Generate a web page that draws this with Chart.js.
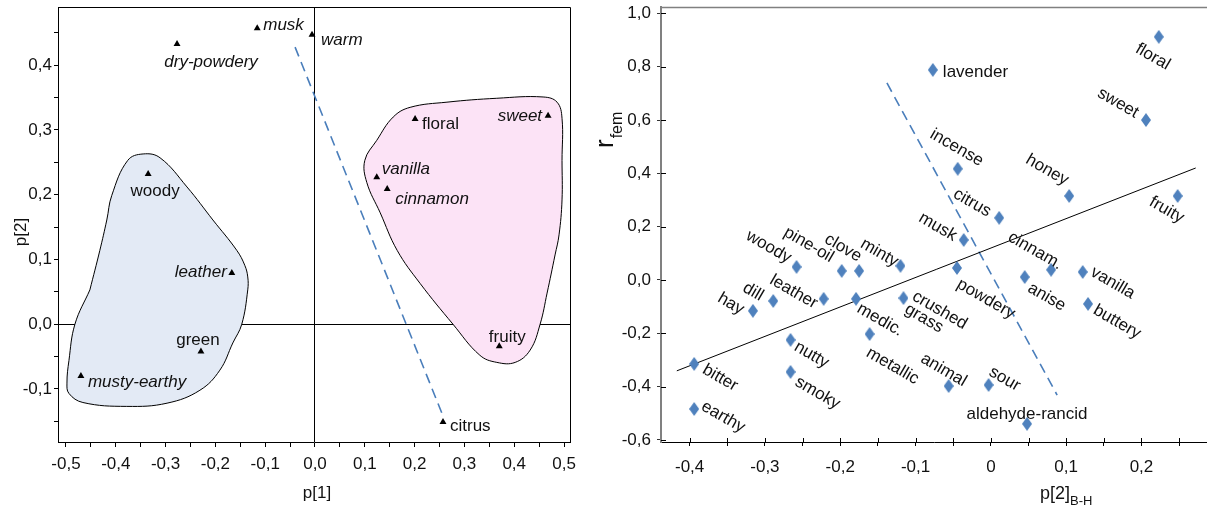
<!DOCTYPE html>
<html>
<head>
<meta charset="utf-8">
<script src="https://cdn.jsdelivr.net/npm/chart.js@4.4.1/dist/chart.umd.min.js"></script>
<style>
  html, body { margin: 0; padding: 0; background: #fff; }
  #left { position: absolute; left: 0; top: 0; }
  #right { position: absolute; left: 590px; top: 0; }
</style>
</head>
<body>
<canvas id="left" width="590" height="510"></canvas>
<canvas id="right" width="617" height="510"></canvas>
<script>
// ---- left panel : p[1] / p[2] loadings ----
const leftNames = ['musk', 'warm', 'dry-powdery', 'woody', 'leather', 'green', 'musty-earthy',
                   'floral', 'sweet', 'vanilla', 'cinnamon', 'fruity', 'citrus'];
const leftP1 = [-0.116, -0.006, -0.277, -0.335, -0.167, -0.229, -0.470,
                0.201, 0.468, 0.124, 0.145, 0.370, 0.257];
const leftP2 = [0.457, 0.447, 0.433, 0.232, 0.079, -0.042, -0.080,
                0.317, 0.322, 0.227, 0.209, -0.034, -0.151];

// outline of the two groups
const blueBlobX = [-0.452, -0.482, -0.494, -0.498, -0.494, -0.466, -0.378, -0.297, -0.231, -0.191, -0.165, -0.147,
                   -0.135, -0.135, -0.141, -0.157, -0.205, -0.257, -0.311, -0.345, -0.376, -0.408, -0.418, -0.432, -0.452];
const blueBlobY = [0.053, 0.000, -0.056, -0.091, -0.107, -0.121, -0.127, -0.122, -0.102, -0.071, -0.029, 0.000,
                   0.053, 0.073, 0.091, 0.114, 0.161, 0.212, 0.257, 0.263, 0.253, 0.199, 0.161, 0.114, 0.053];
const pinkBlobX = [0.496, 0.496, 0.490, 0.482, 0.466, 0.452, 0.432, 0.402, 0.365, 0.331, 0.277, 0.211,
                   0.165, 0.131, 0.104, 0.100, 0.124, 0.157, 0.191, 0.265, 0.365, 0.458, 0.486, 0.496, 0.496];
const pinkBlobY = [0.253, 0.192, 0.138, 0.107, 0.048, 0.000, -0.040, -0.059, -0.059, -0.048, 0.000, 0.063,
                   0.114, 0.172, 0.219, 0.253, 0.284, 0.320, 0.335, 0.343, 0.349, 0.351, 0.343, 0.318, 0.253];

const leftDashX = [-0.040, 0.255];
const leftDashY = [0.428, -0.138];

const leftXTicks = [-0.5, -0.45, -0.4, -0.35, -0.3, -0.25, -0.2, -0.15, -0.1, -0.05, 0,
                    0.05, 0.1, 0.15, 0.2, 0.25, 0.3, 0.35, 0.4, 0.45, 0.5];
const leftXLabels = ['-0,5', '', '-0,4', '', '-0,3', '', '-0,2', '', '-0,1', '', '0,0',
                     '', '0,1', '', '0,2', '', '0,3', '', '0,4', '', '0,5'];
const leftYTicks = [-0.15, -0.1, -0.05, 0, 0.05, 0.1, 0.15, 0.2, 0.25, 0.3, 0.35, 0.4, 0.45];
const leftYLabels = ['', '-0,1', '', '0,0', '', '0,1', '', '0,2', '', '0,3', '', '0,4', ''];

// ---- right panel : r_fem vs p[2]B-H ----
const rightNames = ['floral', 'lavender', 'sweet', 'incense', 'honey', 'fruity', 'citrus', 'musk',
                    'woody', 'pine-oil', 'clove', 'minty', 'powdery', 'cinnam.', 'vanilla', 'anise',
                    'leather', 'medic.', 'dill', 'hay', 'crushed\ngrass', 'buttery', 'metallic', 'nutty',
                    'smoky', 'bitter', 'earthy', 'animal', 'sour', 'aldehyde-rancid'];
const rightX = [0.223, -0.077, 0.206, -0.044, 0.104, 0.248, 0.011, -0.036,
                -0.258, -0.198, -0.175, -0.120, -0.045, 0.080, 0.122, 0.045,
                -0.222, -0.179, -0.289, -0.316, -0.116, 0.129, -0.161, -0.266,
                -0.266, -0.394, -0.394, -0.056, -0.003, 0.048];
const rightY = [0.912, 0.788, 0.600, 0.417, 0.315, 0.315, 0.233, 0.150,
                0.049, 0.034, 0.034, 0.053, 0.045, 0.038, 0.030, 0.011,
                -0.071, -0.071, -0.079, -0.116, -0.068, -0.090, -0.203, -0.225,
                -0.345, -0.315, -0.484, -0.398, -0.394, -0.540];

const fitX = [-0.417, 0.272];
const fitY = [-0.341, 0.420];
const rightDashX = [-0.138, 0.088];
const rightDashY = [0.739, -0.432];

const rightXTicks = [-0.4, -0.35, -0.3, -0.25, -0.2, -0.15, -0.1, -0.05, 0, 0.05, 0.1, 0.15, 0.2, 0.25];
const rightXLabels = ['-0,4', '', '-0,3', '', '-0,2', '', '-0,1', '', '0', '', '0,1', '', '0,2', ''];
const rightYTicks = [-0.6, -0.4, -0.2, 0, 0.2, 0.4, 0.6, 0.8, 1.0];
const rightYLabels = ['-0,6', '-0,4', '-0,2', '0,0', '0,2', '0,4', '0,6', '0,8', '1,0'];

// label placement: [dx, dy, angle, align, italic]
const leftLabelPlace = [
  [6, -3, 0, 'left', 1], [9, 5, 0, 'left', 1], [34, 18, 0, 'center', 1], [7, 17, 0, 'center', 0],
  [-5, -1, 0, 'right', 1], [-3, -11, 0, 'center', 0], [7, 6, 0, 'left', 1], [7, 5, 0, 'left', 0],
  [-6, 1, 0, 'right', 1], [5, -8, 0, 'left', 1], [8, 10, 0, 'left', 1], [8, -9, 0, 'center', 0],
  [7, 4, 0, 'left', 0]
];
const rightLabelPlace = [
  [-6, 20, 30, 'center'], [10, 2, 0, 'left'], [-28, -17, 30, 'center'], [-1, -21, 30, 'center'],
  [-22, -26, 30, 'center'], [-11, 14, 30, 'center'], [-27, -15, 30, 'center'], [-26, -13, 30, 'center'],
  [-28, -20, 30, 'center'], [-33, -26, 30, 'center'], [-16, -23, 30, 'center'], [-21, -13, 30, 'center'],
  [29, 31, 30, 'center'], [-16, -19, 30, 'center'], [30, 11, 30, 'center'], [22, 20, 30, 'center'],
  [-30, -7, 30, 'center'], [24, 21, 30, 'center'], [-20, -9, 30, 'center'], [-22, -7, 30, 'center'],
  [10, -3, 30, 'left'], [29, 18, 30, 'center'], [23, 32, 30, 'center'], [21, 15, 30, 'center'],
  [27, 21, 30, 'center'], [26, 14, 30, 'center'], [29, 8, 30, 'center'], [-5, -16, 30, 'center'],
  [16, -6, 30, 'center'], [0, -10, 0, 'center']
];

const FONT = '"Liberation Sans", Arial, sans-serif';
const BLUE = '#4a7ebb';
Chart.defaults.font.family = FONT;
Chart.defaults.font.size = 17;
Chart.defaults.color = '#111';

const pts = (xs, ys) => xs.map((x, i) => ({x: x, y: ys[i]}));

// diamond marker, a bit taller than wide
const diamond = document.createElement('canvas');
diamond.width = 10; diamond.height = 14;
(function () {
  const c = diamond.getContext('2d');
  c.fillStyle = '#4f81bd';
  c.beginPath();
  c.moveTo(5, 0); c.lineTo(10, 7); c.lineTo(5, 14); c.lineTo(0, 7);
  c.closePath(); c.fill();
})();

function labelPlugin(names, place, dsIndex) {
  return {
    id: 'pointLabels',
    afterDatasetsDraw(chart) {
      const ctx = chart.ctx;
      const meta = chart.getDatasetMeta(dsIndex);
      meta.data.forEach((pt, i) => {
        const p = place[i];
        ctx.save();
        ctx.translate(pt.x + p[0], pt.y + p[1]);
        ctx.rotate(p[2] * Math.PI / 180);
        ctx.font = (p[4] ? 'italic ' : '') + '17px ' + FONT;
        ctx.fillStyle = '#111';
        ctx.textAlign = p[3];
        ctx.textBaseline = 'middle';
        names[i].split('\n').forEach((line, k) => ctx.fillText(line, 0, k * 15));
        ctx.restore();
      });
    }
  };
}

const zeroLine = c => (c.tick && c.tick.value === 0) ? '#000' : 'rgba(0,0,0,0)';

// ---------- left chart ----------
new Chart(document.getElementById('left'), {
  type: 'line',
  data: {
    datasets: [
      { data: pts(leftP1, leftP2), showLine: false, pointStyle: 'triangle', pointRadius: 4,
        backgroundColor: '#000', borderColor: '#000', borderWidth: 0, order: 1 },
      { data: pts(leftDashX, leftDashY), borderColor: BLUE, borderWidth: 1.6, borderDash: [10, 6],
        pointRadius: 0, order: 2 },
      { data: pts(blueBlobX, blueBlobY), fill: 'shape', backgroundColor: '#e3eaf5', borderColor: '#000',
        borderWidth: 1, tension: 0.4, pointRadius: 0, order: 3 },
      { data: pts(pinkBlobX, pinkBlobY), fill: 'shape', backgroundColor: '#fce3f6', borderColor: '#000',
        borderWidth: 1, tension: 0.4, pointRadius: 0, order: 3 }
    ]
  },
  options: {
    responsive: false,
    animation: false,
    layout: { autoPadding: false, padding: { left: 0, right: 20, top: 7, bottom: 0 } },
    plugins: { legend: { display: false }, tooltip: { enabled: false } },
    scales: {
      x: {
        type: 'linear', min: -0.516, max: 0.512, z: 1,
        afterBuildTicks: s => { s.ticks = leftXTicks.map(v => ({value: v})); },
        afterFit: s => { s.height = 68; s.paddingLeft = 0; s.paddingRight = 0; },
        ticks: { autoSkip: false, maxRotation: 0, padding: 7, callback: (v, i) => leftXLabels[i] },
        grid: { color: zeroLine, tickColor: '#000', tickLength: 5 },
        border: { color: '#000', width: 1 }
      },
      y: {
        type: 'linear', min: -0.182, max: 0.49, z: 1,
        afterBuildTicks: s => { s.ticks = leftYTicks.map(v => ({value: v})); },
        afterFit: s => { s.width = 58; s.paddingTop = 0; s.paddingBottom = 0; },
        ticks: { autoSkip: false, padding: 2, callback: (v, i) => leftYLabels[i] },
        grid: { color: zeroLine, tickColor: '#000', tickLength: 4 },
        border: { color: '#000', width: 1 }
      }
    }
  },
  plugins: [
    labelPlugin(leftNames, leftLabelPlace, 0),
    {
      id: 'frameAndTitles',
      afterDraw(chart) {
        const {ctx, chartArea: a} = chart;
        ctx.save();
        ctx.strokeStyle = '#000';
        ctx.lineWidth = 1;
        ctx.beginPath();
        ctx.moveTo(Math.round(a.left) + 0.5, Math.round(a.top) + 0.5);
        ctx.lineTo(Math.round(a.right) + 0.5, Math.round(a.top) + 0.5);
        ctx.lineTo(Math.round(a.right) + 0.5, Math.round(a.bottom) + 0.5);
        ctx.stroke();
        ctx.fillStyle = '#111';
        ctx.font = '17px ' + FONT;
        ctx.textAlign = 'center';
        ctx.textBaseline = 'middle';
        ctx.fillText('p[1]', 317, 493);
        ctx.translate(21, 232);
        ctx.rotate(-Math.PI / 2);
        ctx.fillText('p[2]', 0, 0);
        ctx.restore();
      }
    }
  ]
});

// ---------- right chart ----------
new Chart(document.getElementById('right'), {
  type: 'line',
  data: {
    datasets: [
      { data: pts(rightX, rightY), showLine: false, pointStyle: diamond, pointRadius: 7, order: 1 },
      { data: pts(fitX, fitY), borderColor: '#000', borderWidth: 1, pointRadius: 0, order: 2 },
      { data: pts(rightDashX, rightDashY), borderColor: BLUE, borderWidth: 1.6, borderDash: [10, 6],
        pointRadius: 0, order: 2 }
    ]
  },
  options: {
    responsive: false,
    animation: false,
    layout: { autoPadding: false, padding: { left: 0, right: 0, top: 7, bottom: 0 } },
    plugins: { legend: { display: false }, tooltip: { enabled: false } },
    scales: {
      x: {
        type: 'linear', min: -0.438, max: 0.287,
        afterBuildTicks: s => { s.ticks = rightXTicks.map(v => ({value: v})); },
        afterFit: s => { s.height = 68; s.paddingLeft = 0; s.paddingRight = 0; },
        ticks: { autoSkip: false, maxRotation: 0, padding: 11, callback: (v, i) => rightXLabels[i] },
        grid: { drawOnChartArea: false, tickColor: '#000', tickLength: 4 },
        border: { color: '#000', width: 1 }
      },
      y: {
        type: 'linear', min: -0.608, max: 1.024,
        afterBuildTicks: s => { s.ticks = rightYTicks.map(v => ({value: v})); },
        afterFit: s => { s.width = 71; s.paddingTop = 0; s.paddingBottom = 0; },
        ticks: { autoSkip: false, padding: 6, callback: (v, i) => rightYLabels[i] },
        grid: { drawOnChartArea: false, tickColor: '#333', tickLength: 4 },
        border: { color: '#808080', width: 2 }
      }
    }
  },
  plugins: [
    labelPlugin(rightNames, rightLabelPlace, 0),
    {
      id: 'frameAndTitles',
      afterDraw(chart) {
        const {ctx, chartArea: a, scales} = chart;
        ctx.save();
        // top frame line
        ctx.strokeStyle = '#808080';
        ctx.lineWidth = 1.5;
        ctx.beginPath();
        ctx.moveTo(a.left, Math.round(a.top) + 0.5);
        ctx.lineTo(a.right, Math.round(a.top) + 0.5);
        ctx.stroke();
        // tick marks reaching inside the plot
        ctx.lineWidth = 1;
        ctx.strokeStyle = '#000';
        ctx.beginPath();
        scales.x.ticks.forEach(t => {
          const px = Math.round(scales.x.getPixelForValue(t.value)) + 0.5;
          ctx.moveTo(px, a.bottom); ctx.lineTo(px, a.bottom - 4);
        });
        scales.y.ticks.forEach(t => {
          const py = Math.round(scales.y.getPixelForValue(t.value)) + 0.5;
          ctx.moveTo(a.left, py); ctx.lineTo(a.left + 5, py);
        });
        ctx.stroke();
        // axis titles with subscripts
        ctx.fillStyle = '#111';
        ctx.textAlign = 'left';
        ctx.textBaseline = 'alphabetic';
        ctx.font = '18px ' + FONT;
        ctx.fillText('p[2]', 450, 499);
        const w = ctx.measureText('p[2]').width;
        ctx.font = '13px ' + FONT;
        ctx.fillText('B-H', 450 + w, 505);
        ctx.translate(23, 148);
        ctx.rotate(-Math.PI / 2);
        ctx.font = '26px ' + FONT;
        ctx.fillText('r', 0, 0);
        const rw = ctx.measureText('r').width;
        ctx.font = '16px ' + FONT;
        ctx.fillText('fem', rw + 1, 9);
        ctx.restore();
      }
    }
  ]
});
</script>
</body>
</html>
